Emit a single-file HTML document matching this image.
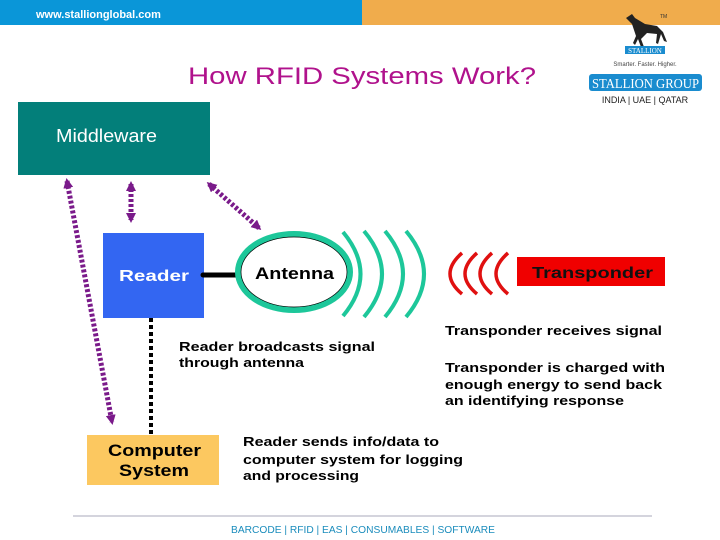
<!DOCTYPE html>
<html><head><meta charset="utf-8"><style>
html,body{margin:0;padding:0;background:#fff;}
svg{display:block;}
</style></head><body>
<svg width="720" height="540" viewBox="0 0 720 540" xmlns="http://www.w3.org/2000/svg" font-family="Liberation Sans, sans-serif">
<defs>
<marker id="ap" markerWidth="10" markerHeight="10" refX="7" refY="5" orient="auto-start-reverse" markerUnits="userSpaceOnUse"><path d="M0,0 L10,5 L0,10 z" fill="#7a1a8a"/></marker>
</defs>
<rect x="0" y="0" width="362" height="25" fill="#0a96d8"/>
<rect x="362" y="0" width="358" height="25" fill="#f0ac4c"/>
<text x="36" y="18" font-size="11" fill="#fff" font-weight="bold">www.stallionglobal.com</text>
<!-- logo -->
<path d="M626,18 l6,-4 l3,4 l10,6 l12,2 l6,6 l4,10 l-3,-1 l-3,-7 l-3,10 l-2,-1 l1,-9 l-10,-1 l-6,6 l3,8 l-3,0 l-3,-8 l-3,6 l-2,-2 l3,-7 l-4,-12 z" fill="#222"/>
<text x="660" y="18" font-size="5" fill="#333">TM</text>
<rect x="625" y="46" width="40" height="8" fill="#1a8ccf"/>
<text x="645" y="53" font-size="7" fill="#fff" text-anchor="middle" font-family="Liberation Serif, serif">STALLION</text>
<text x="645" y="66" font-size="6" fill="#444" text-anchor="middle">Smarter.  Faster.  Higher.</text>
<rect x="589" y="74" width="113" height="17" rx="3" fill="#1a8ccf"/>
<text x="592" y="88" font-size="14" fill="#fff" font-family="Liberation Serif, serif" textLength="107" lengthAdjust="spacingAndGlyphs">STALLION GROUP</text>
<text x="645" y="103" font-size="9" fill="#222" text-anchor="middle">INDIA | UAE | QATAR</text>
<text x="188" y="84" font-size="24" fill="#b0128c" textLength="348" lengthAdjust="spacingAndGlyphs">How RFID Systems Work?</text>
<!-- middleware -->
<rect x="18" y="102" width="192" height="73" fill="#037f7a"/>
<text x="56" y="142" font-size="18" fill="#fff" textLength="101" lengthAdjust="spacingAndGlyphs">Middleware</text>
<!-- dotted arrows -->
<g stroke="#7a1a8a" stroke-width="5" stroke-dasharray="3,2" fill="none">
<line x1="131" y1="184" x2="131" y2="220" marker-start="url(#ap)" marker-end="url(#ap)"/>
<line x1="67" y1="181" x2="112" y2="422" marker-start="url(#ap)" marker-end="url(#ap)"/>
<line x1="209" y1="184" x2="259" y2="228" marker-start="url(#ap)" marker-end="url(#ap)"/>
</g>
<line x1="151" y1="318" x2="151" y2="434" stroke="#000" stroke-width="4" stroke-dasharray="4,3"/>
<!-- reader -->
<rect x="103" y="233" width="101" height="85" fill="#3366f2"/>
<text x="119" y="281" font-size="16" fill="#fff" font-weight="bold" textLength="70" lengthAdjust="spacingAndGlyphs">Reader</text>
<line x1="203" y1="275" x2="240" y2="275" stroke="#000" stroke-width="5" stroke-linecap="round"/>
<ellipse cx="294" cy="272" rx="56" ry="38" fill="#fff" stroke="#1dc79a" stroke-width="6"/>
<ellipse cx="294" cy="272" rx="53" ry="35" fill="none" stroke="#000" stroke-width="0.7"/>
<text x="255" y="279" font-size="17" font-weight="bold" textLength="79" lengthAdjust="spacingAndGlyphs">Antenna</text>
<g stroke="#1dc79a" stroke-width="4" fill="none">
<path d="M343,232 Q378,274 343,316"/>
<path d="M364,231 Q400,274 364,317"/>
<path d="M385,231 Q421,274 385,317"/>
<path d="M406,231 Q442,274 406,317"/>
</g>
<g stroke="#e01010" stroke-width="3.5" fill="none">
<path d="M462,253 Q438,274 462,294"/>
<path d="M477,253 Q453,274 477,294"/>
<path d="M492,253 Q468,274 492,294"/>
<path d="M508,253 Q484,274 508,294"/>
</g>
<rect x="517" y="257" width="148" height="29" fill="#f00000"/>
<text x="532" y="278" font-size="16" font-weight="bold" fill="#111" textLength="121" lengthAdjust="spacingAndGlyphs">Transponder</text>
<!-- computer -->
<rect x="87" y="435" width="132" height="50" fill="#fcc860"/>
<text x="108" y="456" font-size="17" font-weight="bold" textLength="93" lengthAdjust="spacingAndGlyphs">Computer</text>
<text x="119" y="476" font-size="17" font-weight="bold" textLength="70" lengthAdjust="spacingAndGlyphs">System</text>
<g font-size="13" font-weight="bold" fill="#000" lengthAdjust="spacingAndGlyphs">
<text x="179" y="351" textLength="196" lengthAdjust="spacingAndGlyphs">Reader broadcasts signal</text>
<text x="179" y="367" textLength="125" lengthAdjust="spacingAndGlyphs">through antenna</text>
<text x="445" y="335" textLength="217" lengthAdjust="spacingAndGlyphs">Transponder receives signal</text>
<text x="445" y="372" textLength="220" lengthAdjust="spacingAndGlyphs">Transponder is charged with</text>
<text x="445" y="389" textLength="217" lengthAdjust="spacingAndGlyphs">enough energy to send back</text>
<text x="445" y="405" textLength="179" lengthAdjust="spacingAndGlyphs">an identifying response</text>
<text x="243" y="446" textLength="196" lengthAdjust="spacingAndGlyphs">Reader sends info/data to</text>
<text x="243" y="464" textLength="220" lengthAdjust="spacingAndGlyphs">computer system for logging</text>
<text x="243" y="480" textLength="116" lengthAdjust="spacingAndGlyphs">and processing</text>
</g>
<line x1="73" y1="516" x2="652" y2="516" stroke="#aab" stroke-width="1"/>
<text x="231" y="533" font-size="10" fill="#1a8cbc" textLength="264" lengthAdjust="spacingAndGlyphs">BARCODE | RFID | EAS | CONSUMABLES | SOFTWARE</text>
</svg>
</body></html>
